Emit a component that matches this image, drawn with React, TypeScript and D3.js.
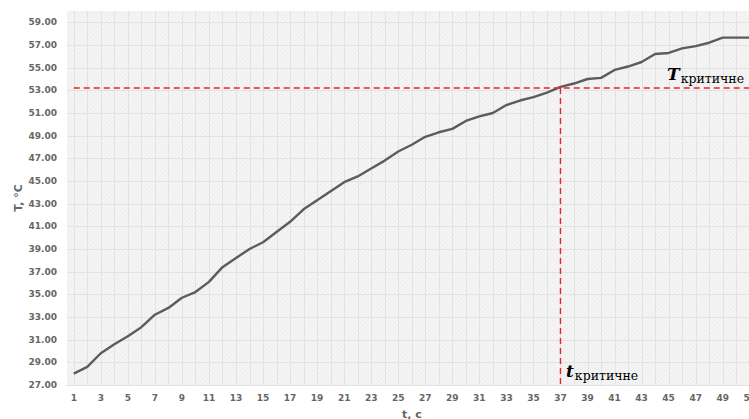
import React, { useRef, useEffect } from 'react';
import * as d3 from 'd3';

// time, s (categories on the x axis)
const times = d3.range(1, 53);
// temperature, °C
const temps = [
  28.0, 28.6, 29.8, 30.6, 31.3, 32.1, 33.2, 33.8, 34.7, 35.2,
  36.1, 37.4, 38.2, 39.0, 39.6, 40.5, 41.4, 42.5, 43.3, 44.1,
  44.9, 45.4, 46.1, 46.8, 47.6, 48.2, 48.9, 49.3, 49.6, 50.3,
  50.7, 51.0, 51.7, 52.1, 52.4, 52.8, 53.3, 53.6, 54.0, 54.1,
  54.8, 55.1, 55.5, 56.2, 56.3, 56.7, 56.9, 57.2, 57.65, 57.65,
  57.65, 57.65,
];
const yTicks = d3.range(27, 60, 2);
const xTicks = times.filter((t) => t % 2 === 1);
const criticalTemp = 53.2;
const criticalTime = 37;

const W = 749;
const H = 419;
const margin = { left: 67, top: 11, bottom: 34 };
const step = 13.52;

export default function App() {
  const svgRef = useRef<SVGSVGElement>(null);

  useEffect(() => {
    const svg = d3.select(svgRef.current);
    svg.selectAll('*').remove();

    const x = d3
      .scaleBand<number>()
      .domain(times)
      .range([margin.left, margin.left + times.length * step]);
    const y = d3
      .scaleLinear()
      .domain([27, 60])
      .range([H - margin.bottom, margin.top]);
    const cx = (t: number) => (x(t) as number) + x.bandwidth() / 2;

    // hatch pattern for the plot background
    const defs = svg.append('defs');
    const pat = defs
      .append('pattern')
      .attr('id', 'hatch')
      .attr('width', 3)
      .attr('height', 3)
      .attr('patternUnits', 'userSpaceOnUse')
      .attr('patternTransform', 'rotate(45)');
    pat.append('rect').attr('width', 3).attr('height', 3).attr('fill', '#f5f5f5');
    pat
      .append('line')
      .attr('x1', 0)
      .attr('y1', 0)
      .attr('x2', 0)
      .attr('y2', 3)
      .attr('stroke', '#e8e8e8')
      .attr('stroke-width', 1.2);

    const [x0, x1] = x.range();
    svg
      .append('rect')
      .attr('x', x0)
      .attr('y', margin.top)
      .attr('width', x1 - x0)
      .attr('height', H - margin.bottom - margin.top)
      .attr('fill', 'url(#hatch)');

    // grid
    const grid = svg.append('g').attr('stroke', '#e2e2e2').attr('stroke-width', 1);
    grid
      .selectAll('line.v')
      .data(times)
      .join('line')
      .attr('class', 'v')
      .attr('x1', (d) => Math.round(cx(d)) + 0.5)
      .attr('x2', (d) => Math.round(cx(d)) + 0.5)
      .attr('y1', margin.top)
      .attr('y2', H - margin.bottom);
    grid
      .selectAll('line.h')
      .data(yTicks)
      .join('line')
      .attr('class', 'h')
      .attr('x1', x0)
      .attr('x2', x1)
      .attr('y1', (d) => Math.round(y(d)) + 0.5)
      .attr('y2', (d) => Math.round(y(d)) + 0.5);

    // tick labels
    const labelStyle = (sel: any) =>
      sel
        .attr('font-family', 'DejaVu Sans, sans-serif')
        .attr('font-weight', 'bold')
        .attr('font-size', 9)
        .attr('fill', '#666666');

    svg
      .append('g')
      .selectAll('text')
      .data(yTicks)
      .join('text')
      .call(labelStyle)
      .attr('x', 57)
      .attr('y', (d) => y(d))
      .attr('dy', '0.35em')
      .attr('text-anchor', 'end')
      .text((d) => d.toFixed(2));

    svg
      .append('g')
      .selectAll('text')
      .data(xTicks)
      .join('text')
      .call(labelStyle)
      .attr('x', (d) => cx(d))
      .attr('y', 398)
      .attr('dy', '0.35em')
      .attr('text-anchor', 'middle')
      .text((d) => d);

    // axis titles
    svg
      .append('text')
      .call(labelStyle)
      .attr('font-size', 11)
      .attr('transform', 'translate(18,198) rotate(-90)')
      .attr('dy', '0.35em')
      .attr('text-anchor', 'middle')
      .text('T, °C');
    svg
      .append('text')
      .call(labelStyle)
      .attr('font-size', 11)
      .attr('x', 412)
      .attr('y', 414)
      .attr('dy', '0.35em')
      .attr('text-anchor', 'middle')
      .text('t, c');

    // temperature curve
    const lineGen = d3
      .line<number>()
      .x((_, i) => cx(times[i]))
      .y((d) => y(d));
    svg
      .append('path')
      .datum(temps)
      .attr('d', lineGen)
      .attr('fill', 'none')
      .attr('stroke', '#5c5c5c')
      .attr('stroke-width', 2.4)
      .attr('stroke-linejoin', 'round');

    // critical lines
    const red = svg
      .append('g')
      .attr('stroke', '#e8262b')
      .attr('stroke-width', 1.4)
      .attr('stroke-dasharray', '6,4');
    red
      .append('line')
      .attr('x1', cx(times[0]))
      .attr('x2', x1)
      .attr('y1', y(criticalTemp))
      .attr('y2', y(criticalTemp));
    red
      .append('line')
      .attr('x1', cx(criticalTime))
      .attr('x2', cx(criticalTime))
      .attr('y1', y(criticalTemp))
      .attr('y2', H - margin.bottom);

    // annotations
    const note = (px: number, py: number, main: string) => {
      const t = svg
        .append('text')
        .attr('x', px)
        .attr('y', py)
        .attr('font-family', 'DejaVu Serif, serif')
        .attr('fill', '#000');
      t.append('tspan')
        .attr('font-weight', 'bold')
        .attr('font-style', 'italic')
        .attr('font-size', 17)
        .text(main);
      t.append('tspan')
        .attr('font-size', 12.5)
        .attr('dy', 2.5)
        .attr('dx', 1)
        .text('критичне');
    };
    note(667, 80, 'T');
    note(566, 377, 't');
  }, []);

  return (
    <div style={{ position: 'fixed', left: 0, top: 0 }}>
      <svg ref={svgRef} width={W} height={H} style={{ display: 'block', background: '#fff' }}></svg>
    </div>
  );
}
